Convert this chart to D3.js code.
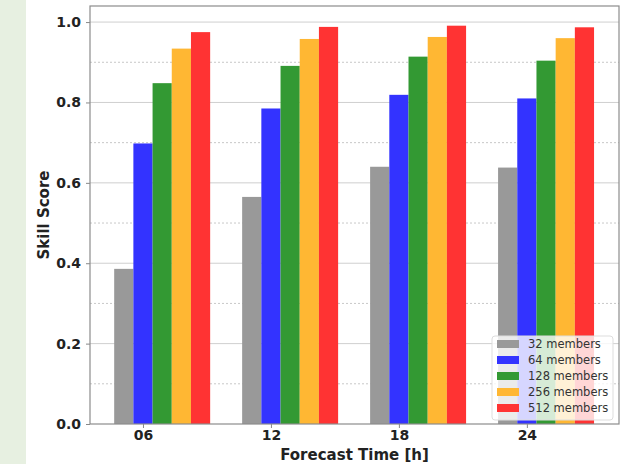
<!DOCTYPE html>
<html lang="en">
<head>
<meta charset="UTF-8">
<title>Skill Score</title>
<script src="https://d3js.org/d3.v7.min.js"></script>
<style>
    body{
        margin: 0;
        background: #fff;
    }
    text{
        font-family: "DejaVu Sans", sans-serif;
    }
    .tick text{
        font-size: 14px;
        font-weight: bold;
        fill: #222;
    }
</style>
</head>
<body>
<svg id="chart" width="641" height="464"></svg>
<script>
    const hours = ["06", "12", "18", "24"]
    const members = ["32 members", "64 members", "128 members", "256 members", "512 members"]
    const colors = ["#999999", "#3333ff", "#339933", "#ffb733", "#ff3333"]
    const s32 = [0.386, 0.565, 0.640, 0.638]
    const s64 = [0.698, 0.785, 0.819, 0.810]
    const s128 = [0.848, 0.891, 0.914, 0.904]
    const s256 = [0.934, 0.958, 0.963, 0.960]
    const s512 = [0.975, 0.988, 0.991, 0.987]
    const series = [s32, s64, s128, s256, s512]
    const yTicks = [0, 0.2, 0.4, 0.6, 0.8, 1.0]
    const yMinor = [0.1, 0.3, 0.5, 0.7, 0.9]
    const barW = 0.15

    const width = 641, height = 464
    const mLeft = 90, mRight = 619, mTop = 6, mBottom = 424

    const svg = d3.select("#chart")

    // pale strip on the left edge
    svg.append("rect").attr("x", 0).attr("y", 0).attr("width", 26).attr("height", height)
        .attr("fill", "#e7f0e1")

    const x = d3.scaleLinear().domain([-0.414, 3.72]).range([mLeft, mRight])
    const y = d3.scaleLinear().domain([0, 1.04]).range([mBottom, mTop])

    // grid
    svg.append("g").selectAll("line").data(yMinor).join("line")
        .attr("x1", mLeft).attr("x2", mRight)
        .attr("y1", d => y(d)).attr("y2", d => y(d))
        .attr("stroke", "#c8c8c8").attr("stroke-width", 1).attr("stroke-dasharray", "2,2")
    svg.append("g").selectAll("line").data(yTicks.slice(1)).join("line")
        .attr("x1", mLeft).attr("x2", mRight)
        .attr("y1", d => y(d)).attr("y2", d => y(d))
        .attr("stroke", "#cfcfcf").attr("stroke-width", 1)

    // bars
    series.forEach((vals, k) => {
        svg.append("g").selectAll("rect").data(vals).join("rect")
            .attr("x", (d, i) => x(i + (k - 1.5) * barW))
            .attr("width", x(barW) - x(0))
            .attr("y", d => y(d))
            .attr("height", d => y(0) - y(d))
            .attr("fill", colors[k])
    })

    // axes
    const yAxis = svg.append("g").attr("transform", `translate(${mLeft},0)`)
        .call(d3.axisLeft(y).tickValues(yTicks).tickFormat(d3.format(".1f")).tickSize(4).tickPadding(5))
    const xAxis = svg.append("g").attr("transform", `translate(0,${mBottom})`)
        .call(d3.axisBottom(x).tickValues(d3.range(hours.length)).tickFormat(i => hours[i]).tickSize(4).tickPadding(2))
    ;[yAxis, xAxis].forEach(a => {
        a.select(".domain").remove()
        a.selectAll(".tick line").attr("stroke", "#888")
    })

    // frame
    svg.append("rect").attr("x", mLeft).attr("y", mTop)
        .attr("width", mRight - mLeft).attr("height", mBottom - mTop)
        .attr("fill", "none").attr("stroke", "#8c8c8c").attr("stroke-width", 1.2)

    // axis labels
    svg.append("text").attr("x", (mLeft + mRight) / 2).attr("y", 460)
        .attr("text-anchor", "middle").attr("font-size", 15).attr("font-weight", "bold")
        .attr("fill", "#222").text("Forecast Time [h]")
    svg.append("text").attr("transform", `translate(49,${(mTop + mBottom) / 2}) rotate(-90)`)
        .attr("text-anchor", "middle").attr("font-size", 15).attr("font-weight", "bold")
        .attr("fill", "#222").text("Skill Score")

    // legend
    const lg = svg.append("g").attr("transform", "translate(492,336)")
    lg.append("rect").attr("width", 121).attr("height", 84).attr("rx", 3)
        .attr("fill", "rgba(255,255,255,0.8)").attr("stroke", "#ddd")
    members.forEach((m, k) => {
        const row = lg.append("g").attr("transform", `translate(5,${8 + k * 16})`)
        row.append("rect").attr("y", -4).attr("width", 22).attr("height", 8).attr("fill", colors[k])
        row.append("text").attr("x", 31).attr("dy", "0.35em").attr("font-size", 11.5)
            .attr("fill", "#333").text(m)
    })
</script>
</body>
</html>
